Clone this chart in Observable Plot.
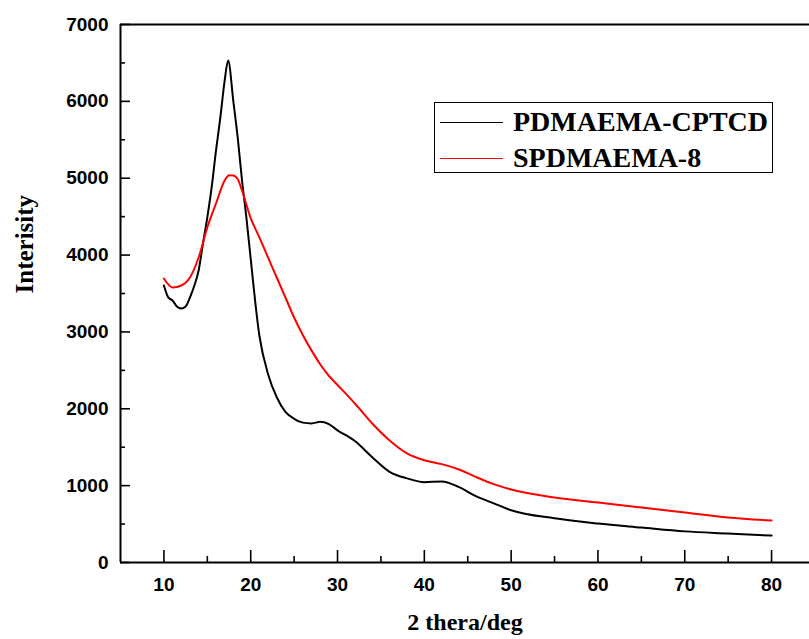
<!DOCTYPE html>
<html>
<head>
<meta charset="utf-8">
<script src="https://cdn.jsdelivr.net/npm/d3@7"></script>
<script src="https://cdn.jsdelivr.net/npm/@observablehq/plot@0.6"></script>
<style>
  body { margin: 0; background: #fff; }
  #wrap { position: relative; width: 809px; height: 639px; overflow: hidden; }
  #legend { position: absolute; left: 434px; top: 102px; width: 339px; height: 71px;
            border: 1.5px solid #000; box-sizing: border-box; background: #fff;
            font-family: "Liberation Serif", "DejaVu Serif", serif; font-weight: bold; font-size: 28px; }
  .row { position: absolute; left: 0; height: 32px; display: flex; align-items: center; }
  .sw { width: 63px; height: 0; margin-left: 5px; margin-right: 10px; }
</style>
</head>
<body>
<div id="wrap">
  <div id="chart"></div>
  <div id="legend"></div>
</div>
<script>
// ---- data ----
const seriesNames = ["PDMAEMA-CPTCD", "SPDMAEMA-8"];
const seriesColors = ["#000000", "#ff0000"];

const thetaBlack = [10, 10.5, 11, 11.5, 12, 12.5, 13, 13.5, 14, 14.5, 15, 15.5, 16, 16.5, 17, 17.4, 18, 18.5, 19, 19.5, 20, 21, 22, 23, 24, 25, 26, 27, 28, 29, 30, 32, 34, 36, 38, 40, 42, 44, 46, 48, 50, 55, 60, 65, 70, 75, 80];
const valBlack   = [3604, 3450, 3409, 3330, 3305, 3330, 3448, 3600, 3800, 4150, 4490, 4880, 5360, 5790, 6270, 6530, 6000, 5530, 4970, 4490, 3950, 2950, 2450, 2150, 1960, 1870, 1820, 1810, 1830, 1800, 1720, 1580, 1370, 1180, 1095, 1045, 1055, 980, 860, 770, 680, 575, 507, 455, 405, 377, 350];

const thetaRed = [10, 11, 12, 13, 14, 15, 16, 17, 17.5, 18, 18.5, 19, 20, 21, 22, 23, 24, 25, 26, 27, 28, 29, 30, 32, 34, 36, 38, 40, 42, 44, 46, 48, 50, 55, 60, 65, 70, 75, 80];
const valRed   = [3695, 3578, 3604, 3708, 3968, 4359, 4671, 4970, 5040, 5035, 4990, 4840, 4480, 4230, 3968, 3708, 3448, 3188, 2960, 2760, 2580, 2430, 2310, 2069, 1808, 1587, 1420, 1330, 1280, 1210, 1110, 1020, 950, 846, 781, 716, 651, 586, 546];

const xMajor = [10, 20, 30, 40, 50, 60, 70, 80];
const xMinor = [15, 25, 35, 45, 55, 65, 75];
const yMajor = [0, 1000, 2000, 3000, 4000, 5000, 6000, 7000];
const yMinor = [500, 1500, 2500, 3500, 4500, 5500, 6500];

const xTitle = "2 thera/deg";
const yTitle = "Interisity";

// ---- build tables ----
const black = thetaBlack.map((t, i) => ({t, v: valBlack[i]}));
const red = thetaRed.map((t, i) => ({t, v: valRed[i]}));

const sans = "Liberation Sans, Arial, sans-serif";
const serif = "Liberation Serif, Times New Roman, serif";
const blank = () => "";
const plain = d => String(d);

const chart = Plot.plot({
  width: 809,
  height: 639,
  marginLeft: 120,
  marginRight: 0,
  marginTop: 24,
  marginBottom: 77,
  x: {domain: [5, 84.37]},
  y: {domain: [0, 7000]},
  style: {background: "white"},
  marks: [
    Plot.line(black, {x: "t", y: "v", stroke: seriesColors[0], strokeWidth: 2, curve: "monotone-x"}),
    Plot.line(red, {x: "t", y: "v", stroke: seriesColors[1], strokeWidth: 2, curve: "monotone-x"}),
    Plot.ruleX([5], {strokeWidth: 2}),
    Plot.ruleY([0, 7000], {strokeWidth: 2}),
    Plot.axisY({ticks: yMajor, anchor: "left", tickSize: -10, tickFormat: blank, label: null, strokeWidth: 1.6}),
    Plot.axisY({ticks: yMinor, anchor: "left", tickSize: -5, tickFormat: blank, label: null, strokeWidth: 1.6}),
    Plot.axisY({ticks: yMajor, anchor: "left", tickSize: 0, tickPadding: 12, tickFormat: plain, label: null, fontSize: 19, fontWeight: "bold", fontFamily: sans, color: "#000"}),
    Plot.axisX({ticks: xMajor, anchor: "bottom", tickSize: -12, tickFormat: blank, label: null, strokeWidth: 1.6}),
    Plot.axisX({ticks: xMinor, anchor: "bottom", tickSize: -6, tickFormat: blank, label: null, strokeWidth: 1.6}),
    Plot.axisX({ticks: xMajor, anchor: "bottom", tickSize: 0, tickPadding: 15, tickFormat: plain, label: null, fontSize: 19, fontWeight: "bold", fontFamily: sans, color: "#000"}),
    Plot.text([yTitle], {text: d => d, frameAnchor: "left", rotate: -90, dx: -96, fontSize: 25, fontWeight: "bold", fontFamily: serif, fill: "#000"}),
    Plot.text([xTitle], {text: d => d, frameAnchor: "bottom", dy: 67, fontSize: 24, fontWeight: "bold", fontFamily: serif, fill: "#000"})
  ]
});
document.getElementById("chart").appendChild(chart);

// ---- legend ----
const legend = document.getElementById("legend");
seriesNames.forEach((name, i) => {
  const row = document.createElement("div");
  row.className = "row";
  row.style.top = (i === 0 ? 3 : 39) + "px";
  const sw = document.createElement("div");
  sw.className = "sw";
  sw.style.borderTop = "1.5px solid " + seriesColors[i];
  const label = document.createElement("span");
  label.textContent = name;
  row.appendChild(sw);
  row.appendChild(label);
  legend.appendChild(row);
});
</script>
</body>
</html>
